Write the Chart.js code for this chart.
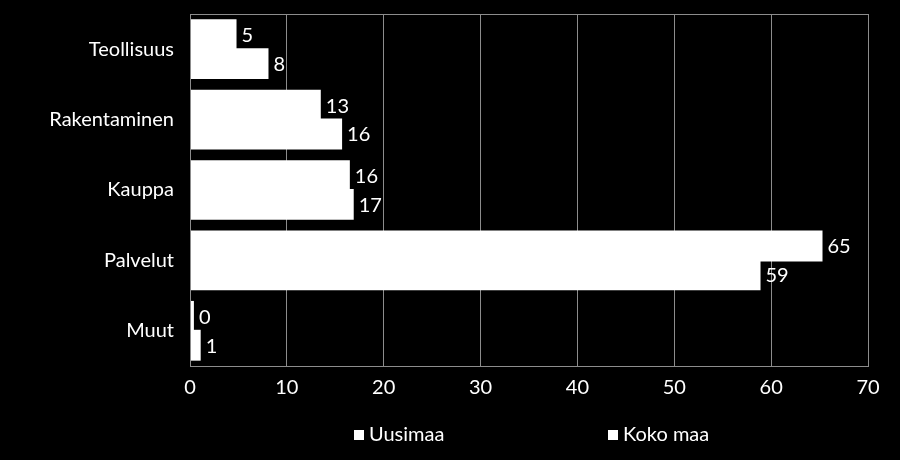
<!DOCTYPE html>
<html>
<head>
<meta charset="utf-8">
<script src="https://cdn.jsdelivr.net/npm/chart.js@4"></script>
<style>
  html, body { margin:0; padding:0; background:#000; }
  #wrap { position:relative; width:900px; height:460px; background:#000; }
  canvas { position:absolute; left:0; top:0; }
  .leg { position:absolute; top:420px; color:#fff; font-family:Lato, sans-serif; font-size:20px; line-height:26px; white-space:nowrap; }
  .leg span.box { display:inline-block; width:10px; height:10px; background:#fff; margin-right:5px; vertical-align:1px; }
</style>
</head>
<body>
<div id="wrap">
  <canvas id="c" width="900" height="460"></canvas>
  <div id="legend"></div>
</div>
<script>
const categories = ["Teollisuus", "Rakentaminen", "Kauppa", "Palvelut", "Muut"];
const seriesNames = ["Uusimaa", "Koko maa"];
const uusimaa = [4.7, 13.4, 16.4, 65.2, 0.3];
const kokoMaa = [8.0, 15.6, 16.8, 58.8, 1.0];
const xTicks = [0, 10, 20, 30, 40, 50, 60, 70];

const FONT = "Lato, sans-serif";
const FSIZE = 20;

const boxPlugin = {
  id: 'box',
  afterDatasetsDraw(chart) {
    const {ctx, chartArea: a} = chart;
    ctx.save();
    ctx.strokeStyle = '#8c8c8c';
    ctx.lineWidth = 1;
    ctx.strokeRect(Math.round(a.left) + 0.5, Math.round(a.top) + 0.5, Math.round(a.right - a.left), Math.round(a.bottom - a.top));
    ctx.restore();
  }
};

const labelPlugin = {
  id: 'vlabels',
  afterDatasetsDraw(chart) {
    const ctx = chart.ctx;
    ctx.save();
    ctx.fillStyle = '#fff';
    ctx.font = FSIZE + 'px ' + FONT;
    ctx.textAlign = 'left';
    ctx.textBaseline = 'middle';
    chart.data.datasets.forEach((ds, di) => {
      const meta = chart.getDatasetMeta(di);
      meta.data.forEach((el, i) => {
        ctx.fillText(String(Math.round(ds.data[i])), el.x + 6, el.y + 1);
      });
    });
    ctx.restore();
  }
};

new Chart(document.getElementById('c'), {
  type: 'bar',
  data: {
    labels: categories,
    datasets: [
      { label: seriesNames[0], data: uusimaa, backgroundColor: '#ffffff', borderWidth: 0, inflateAmount: 1 },
      { label: seriesNames[1], data: kokoMaa, backgroundColor: '#ffffff', borderWidth: 0, inflateAmount: 1 }
    ]
  },
  options: {
    indexAxis: 'y',
    responsive: false,
    animation: false,
    devicePixelRatio: 1,
    layout: { padding: { top: 14, right: 32, bottom: 60, left: 0 } },
    datasets: { bar: { categoryPercentage: 0.82, barPercentage: 1.0 } },
    plugins: { legend: { display: false }, tooltip: { enabled: false } },
    scales: {
      x: {
        min: 0, max: 70,
        afterBuildTicks(scale) { scale.ticks = xTicks.map(v => ({ value: v })); },
        afterFit(scale) { scale.height = 34; scale.paddingLeft = 0; scale.paddingRight = 0; },
        grid: { color: '#8c8c8c', lineWidth: 1, drawTicks: false },
        border: { display: false },
        ticks: { color: '#fff', font: { family: FONT, size: FSIZE }, padding: 10 }
      },
      y: {
        afterFit(scale) { scale.width = 190; scale.paddingTop = 0; scale.paddingBottom = 0; },
        grid: { display: false, drawTicks: false },
        border: { display: false },
        ticks: { color: '#fff', font: { family: FONT, size: FSIZE }, padding: 16 }
      }
    }
  },
  plugins: [boxPlugin, labelPlugin]
});

const legend = document.getElementById('legend');
const legendX = [354, 608];
seriesNames.forEach((n, i) => {
  const d = document.createElement('div');
  d.className = 'leg';
  d.style.left = legendX[i] + 'px';
  d.innerHTML = '<span class="box"></span>' + n;
  legend.appendChild(d);
});
</script>
</body>
</html>
